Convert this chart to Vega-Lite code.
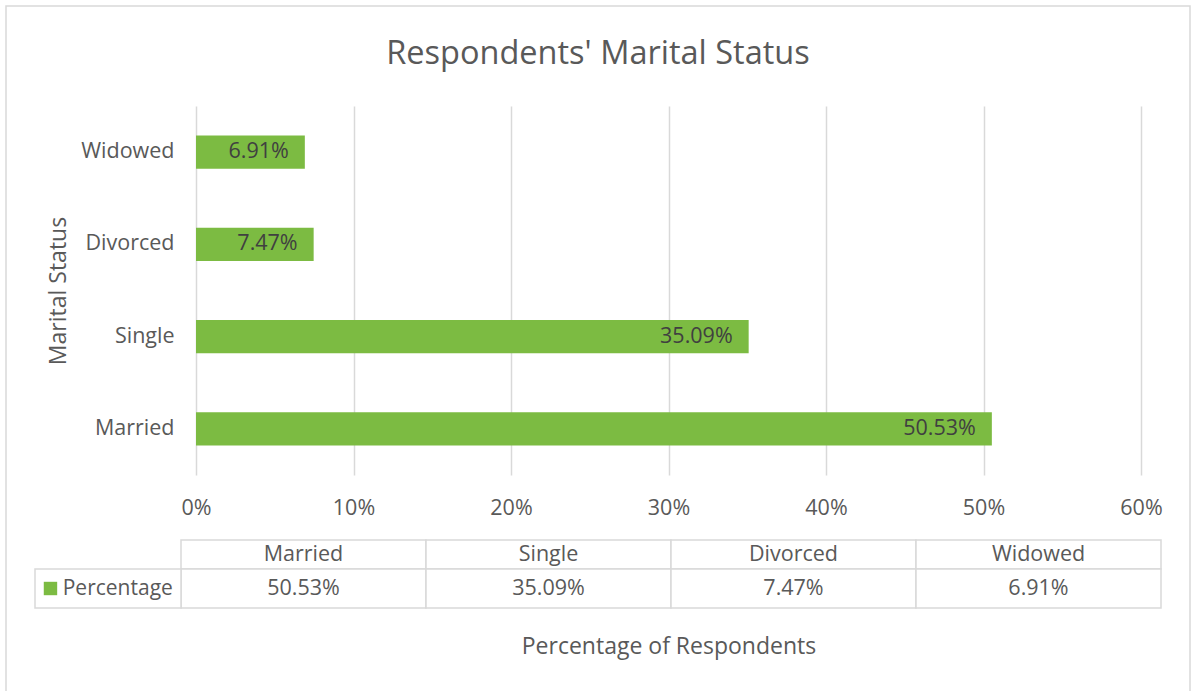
{
  "$schema": "https://vega.github.io/schema/vega-lite/v6.json",
  "padding": {"left": 5, "top": 5, "right": 7, "bottom": 0},
  "background": "white",
  "title": {
    "text": "Respondents' Marital Status",
    "fontSize": 32.5,
    "font": "Open Sans",
    "fontWeight": "normal",
    "color": "#595959",
    "anchor": "middle",
    "offset": -65
  },
  "datasets": {
    "marital": [
      {"status": "Married", "pct": 0.5053},
      {"status": "Single", "pct": 0.3509},
      {"status": "Divorced", "pct": 0.0747},
      {"status": "Widowed", "pct": 0.0691}
    ]
  },
  "config": {
    "view": {"stroke": null},
    "font": "Open Sans",
    "axis": {"labelFont": "Open Sans", "titleFont": "Open Sans"}
  },
  "bounds": "flush",
  "spacing": 65,
  "vconcat": [
    {
      "width": 945,
      "height": 369,
      "data": {"name": "marital"},
      "encoding": {
        "y": {
          "field": "status",
          "type": "nominal",
          "sort": ["Widowed", "Divorced", "Single", "Married"],
          "scale": {"paddingInner": 0.64, "paddingOuter": 0.32},
          "axis": {
            "title": "Marital Status",
            "titleFontSize": 23,
            "titleFontWeight": "normal",
            "titleColor": "#595959",
            "titlePadding": 10,
            "labelFontSize": 21.5,
            "labelColor": "#595959",
            "labelPadding": 22,
            "ticks": false,
            "domain": false
          }
        },
        "x": {
          "field": "pct",
          "type": "quantitative",
          "scale": {"domain": [0, 0.6], "nice": false},
          "axis": {
            "values": [0, 0.1, 0.2, 0.3, 0.4, 0.5, 0.6],
            "format": ".0%",
            "grid": true,
            "gridColor": "#d9d9d9",
            "gridWidth": 1.5,
            "ticks": false,
            "domain": false,
            "labelFlush": false,
            "labelFontSize": 21.5,
            "labelColor": "#595959",
            "labelPadding": 22,
            "title": "Percentage of Respondents",
            "titleFontSize": 23,
            "titleFontWeight": "normal",
            "titleColor": "#595959",
            "titlePadding": 117
          }
        }
      },
      "layer": [
        {"mark": {"type": "bar", "color": "#7cbb42"}},
        {
          "mark": {
            "type": "text",
            "align": "right",
            "dx": -16,
            "fontSize": 21.5,
            "color": "#404040"
          },
          "encoding": {"text": {"field": "pct", "type": "quantitative", "format": ".2%"}}
        }
      ]
    },
    {
      "width": 945,
      "height": 68,
      "data": {"name": "marital"},
      "resolve": {"scale": {"x": "independent", "y": "independent"}},
      "layer": [
        {
          "mark": {"type": "rect", "fill": "white", "stroke": "#d9d9d9", "strokeWidth": 1.5},
          "encoding": {
            "x": {
              "field": "status",
              "type": "nominal",
              "sort": ["Married", "Single", "Divorced", "Widowed"],
              "scale": {"range": [-15, 965], "paddingInner": 0, "paddingOuter": 0},
              "axis": null
            },
            "y": {
              "datum": "header",
              "type": "nominal",
              "scale": {"domain": ["header"], "range": [0, 29], "paddingInner": 0, "paddingOuter": 0},
              "axis": null
            }
          }
        },
        {
          "mark": {"type": "rect", "fill": "white", "stroke": "#d9d9d9", "strokeWidth": 1.5},
          "encoding": {
            "x": {
              "field": "status",
              "type": "nominal",
              "sort": ["Married", "Single", "Divorced", "Widowed"],
              "scale": {"range": [-15, 965], "paddingInner": 0, "paddingOuter": 0},
              "axis": null
            },
            "y": {
              "datum": "value",
              "type": "nominal",
              "scale": {"domain": ["value"], "range": [29, 68], "paddingInner": 0, "paddingOuter": 0},
              "axis": null
            }
          }
        },
        {
          "mark": {"type": "text", "fontSize": 21.5, "color": "#595959"},
          "encoding": {
            "x": {
              "field": "status",
              "type": "nominal",
              "sort": ["Married", "Single", "Divorced", "Widowed"],
              "scale": {"range": [-15, 965], "paddingInner": 0, "paddingOuter": 0},
              "axis": null
            },
            "y": {
              "datum": "header",
              "type": "nominal",
              "scale": {"domain": ["header"], "range": [0, 29], "paddingInner": 0, "paddingOuter": 0},
              "axis": null
            },
            "text": {"field": "status", "type": "nominal"}
          }
        },
        {
          "mark": {"type": "text", "fontSize": 21.5, "color": "#595959"},
          "encoding": {
            "x": {
              "field": "status",
              "type": "nominal",
              "sort": ["Married", "Single", "Divorced", "Widowed"],
              "scale": {"range": [-15, 965], "paddingInner": 0, "paddingOuter": 0},
              "axis": null
            },
            "y": {
              "datum": "value",
              "type": "nominal",
              "scale": {"domain": ["value"], "range": [29, 68], "paddingInner": 0, "paddingOuter": 0},
              "axis": null
            },
            "text": {"field": "pct", "type": "quantitative", "format": ".2%"}
          }
        },
        {
          "data": {"values": [{"series": "Percentage"}]},
          "layer": [
            {
              "mark": {"type": "rect", "fill": "white", "stroke": "#d9d9d9", "strokeWidth": 1.5},
              "encoding": {
                "x": {
                  "field": "series",
                  "type": "nominal",
                  "scale": {"range": [-161, -15], "paddingInner": 0, "paddingOuter": 0},
                  "axis": null
                },
                "y": {
                  "datum": "value",
                  "type": "nominal",
                  "scale": {"domain": ["value"], "range": [29, 68], "paddingInner": 0, "paddingOuter": 0},
                  "axis": null
                }
              }
            },
            {
              "mark": {"type": "square", "filled": true, "color": "#7cbb42", "size": 180, "opacity": 1},
              "encoding": {
                "x": {
                  "field": "series",
                  "type": "nominal",
                  "bandPosition": 0.106,
                  "scale": {"range": [-161, -15], "paddingInner": 0, "paddingOuter": 0},
                  "axis": null
                },
                "y": {
                  "datum": "value",
                  "type": "nominal",
                  "scale": {"domain": ["value"], "range": [29, 68], "paddingInner": 0, "paddingOuter": 0},
                  "axis": null
                }
              }
            },
            {
              "mark": {"type": "text", "align": "left", "fontSize": 21, "color": "#595959"},
              "encoding": {
                "x": {
                  "field": "series",
                  "type": "nominal",
                  "bandPosition": 0.19,
                  "scale": {"range": [-161, -15], "paddingInner": 0, "paddingOuter": 0},
                  "axis": null
                },
                "y": {
                  "datum": "value",
                  "type": "nominal",
                  "scale": {"domain": ["value"], "range": [29, 68], "paddingInner": 0, "paddingOuter": 0},
                  "axis": null
                },
                "text": {"field": "series", "type": "nominal"}
              }
            }
          ]
        },
        {
          "data": {"values": [{"area": "chart"}]},
          "mark": {"type": "rect", "filled": false, "stroke": "#d9d9d9", "strokeWidth": 1.5},
          "encoding": {
            "x": {
              "field": "area",
              "type": "nominal",
              "scale": {"range": [-190, 994], "paddingInner": 0, "paddingOuter": 0},
              "axis": null
            },
            "y": {
              "field": "area",
              "type": "nominal",
              "scale": {"range": [-534, 156], "paddingInner": 0, "paddingOuter": 0},
              "axis": null
            }
          }
        }
      ]
    }
  ]
}
